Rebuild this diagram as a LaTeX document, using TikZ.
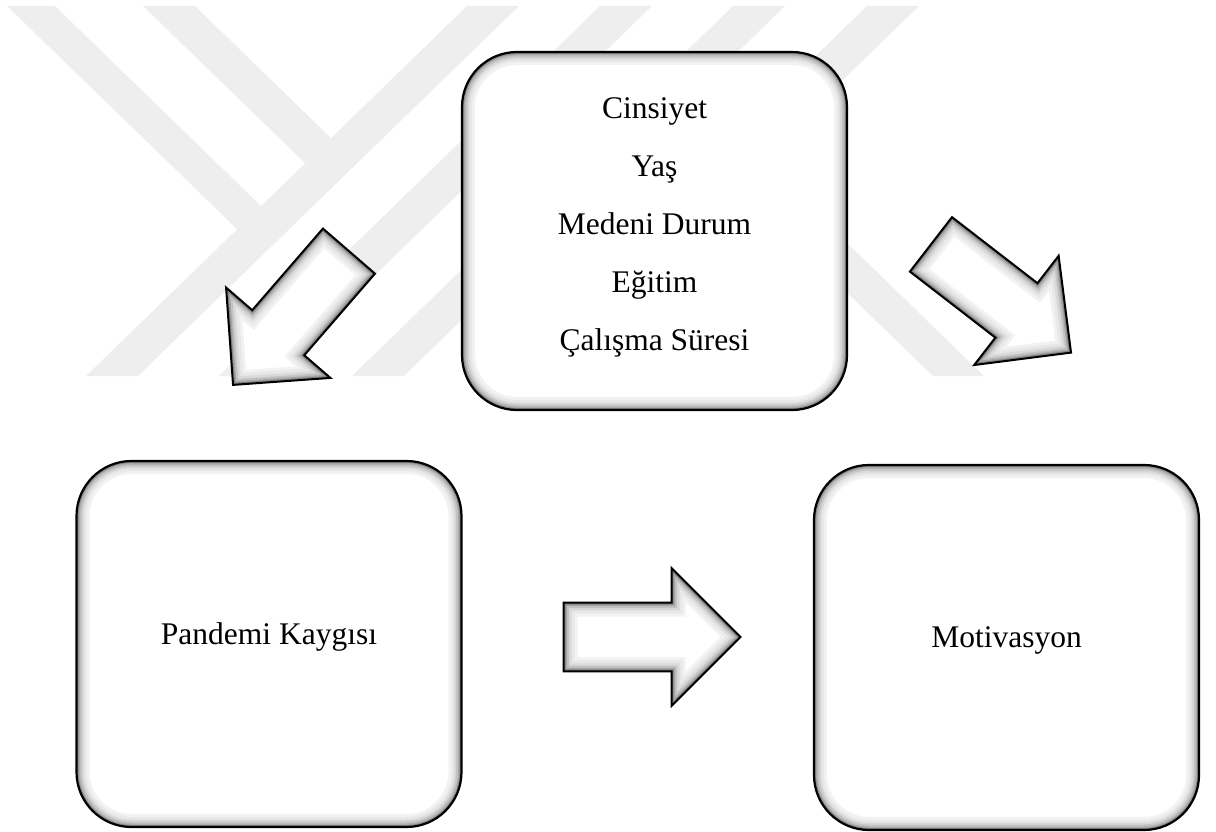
\documentclass[tikz,border=0pt]{standalone}
\usepackage{fontspec}
\setmainfont{Liberation Serif}
\usetikzlibrary{positioning}

\definecolor{wmgray}{gray}{0.935}

\tikzset{
  box/.style={draw, line width=2.2pt, fill=white, rounded corners=55pt,
    minimum width=385pt, align=center, font=\fontsize{31.5}{58}\selectfont,
    text height=22pt, text depth=22pt,
    path picture={\foreach \w/\c in {26/5,20/9,15/15,11/23,7/33,4/48}
      \draw[line width=\w pt, black!\c, rounded corners=55pt]
        (path picture bounding box.south west) rectangle (path picture bounding box.north east);}},
  wm/.style={fill=wmgray}
}

\newcommand{\arrowpath}{(-88.5,-34.4) -- (19.5,-34.4) -- (19.5,-69) -- (88.5,0) -- (19.5,69) -- (19.5,34.4) -- (-88.5,34.4) -- cycle}
\newcommand{\blockarrow}[2]{%
  \begin{scope}[shift={(#1)}, rotate=#2]
    \fill[white] \arrowpath;
    \begin{scope}
      \clip \arrowpath;
      \foreach \w/\c in {28/5,22/9,16/15,11/24,7/35,4/50}
        \draw[line width=\w pt, black!\c] \arrowpath;
    \end{scope}
    \draw[line width=2pt] \arrowpath;
  \end{scope}}

\begin{document}
\begin{tikzpicture}[x=1pt, y=-1pt, on grid]
  \useasboundingbox (0,0) rectangle (1216,832);

  \foreach \t in {467,600,733,867}
    \fill[wm] (\t,6) -- (\t+52,6) -- (\t-329,376) -- (\t-381,376) -- cycle;
  \fill[wm] (7,6) -- (55,6) -- (261,206) -- (237,229) -- cycle;
  \fill[wm] (143,6) -- (195,6) -- (331,138) -- (305,163) -- cycle;
  \fill[wm] (751,200) -- (803,200) -- (984,376) -- (933,376) -- cycle;

  \node[box, minimum height=358pt, text height=253.7pt, text depth=15.7pt] (top) at (654.5,231)
    {Cinsiyet\\Yaş\\Medeni Durum\\Eğitim\\Çalışma Süresi};
  \node[box, minimum height=366pt, below left=413pt and 385.5pt of top] (pk) {Pandemi Kaygısı};
  \node[box, minimum height=365pt, below right=416.5pt and 352pt of top] (mot) {Motivasyon};

  \coordinate (arrL) at (291,318);
  \coordinate (arrR) at (1001,298.5);
  \coordinate (arrM) at (652,637);
  \blockarrow{arrL}{229.1}
  \blockarrow{arrR}{-37.7}
  \blockarrow{arrM}{0}
\end{tikzpicture}
\end{document}
